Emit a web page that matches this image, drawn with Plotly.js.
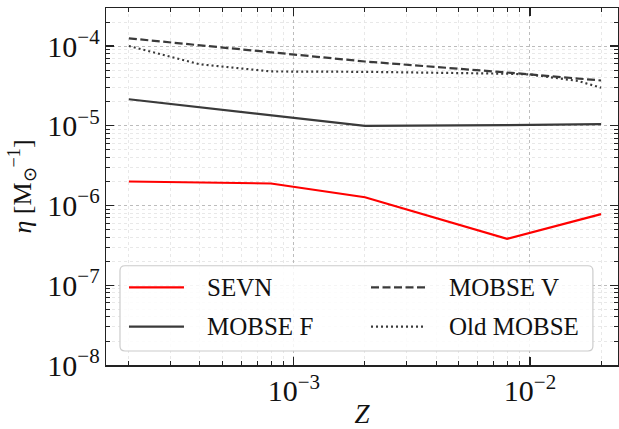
<!DOCTYPE html>
<html>
<head>
<meta charset="utf-8">
<script src="https://cdn.plot.ly/plotly-3.0.1.min.js"></script>
<style>
  html, body { margin: 0; padding: 0; background: #fff; }
  #chart { width: 619px; height: 429px; }
</style>
</head>
<body>
<div id="chart"></div>
<script>
// Metallicity grid and merger efficiency for each population-synthesis model
const sevnZ = [0.0002, 0.0008, 0.002, 0.008, 0.02];
const sevnEta = [2.0e-6, 1.89e-6, 1.27e-6, 3.83e-7, 7.8e-7];

const mobseFZ = [0.0002, 0.002, 0.008, 0.02];
const mobseFEta = [2.15e-5, 1.0e-5, 1.02e-5, 1.05e-5];

const mobseVZ = [0.0002, 0.001, 0.002, 0.008, 0.01, 0.02];
const mobseVEta = [1.25e-4, 7.8e-5, 6.4e-5, 4.66e-5, 4.4e-5, 3.7e-5];

const oldZ = [0.0002, 0.0004, 0.0008, 0.002, 0.008, 0.01, 0.016, 0.02];
const oldEta = [1.0e-4, 5.9e-5, 4.8e-5, 4.75e-5, 4.5e-5, 4.4e-5, 3.65e-5, 3.0e-5];

const names = ['SEVN', 'MOBSE F', 'MOBSE V', 'Old MOBSE'];
const colors = ['#ff0000', '#3a3a3a', '#3a3a3a', '#3a3a3a'];
const dashes = ['solid', 'solid', '8px,3.5px', '2px,3px'];
const xs = [sevnZ, mobseFZ, mobseVZ, oldZ];
const ys = [sevnEta, mobseFEta, mobseVEta, oldEta];

const FONT = '"Liberation Serif", "Times New Roman", serif';

const traces = names.map((n, i) => ({
  x: xs[i], y: ys[i], name: n, type: 'scatter', mode: 'lines',
  line: { color: colors[i], width: 2.2, dash: dashes[i] },
  showlegend: false
}));

// Hand-built two-column legend box
const legendBox = { x0: 0.0273, x1: 0.951, y0: 0.0392, y1: 0.278 };
const rx = 5 / 512, ry = 5 / 357;
const b = legendBox;
const boxPath = `M ${b.x0 + rx} ${b.y0} L ${b.x1 - rx} ${b.y0} Q ${b.x1} ${b.y0} ${b.x1} ${b.y0 + ry} ` +
  `L ${b.x1} ${b.y1 - ry} Q ${b.x1} ${b.y1} ${b.x1 - rx} ${b.y1} L ${b.x0 + rx} ${b.y1} ` +
  `Q ${b.x0} ${b.y1} ${b.x0} ${b.y1 - ry} L ${b.x0} ${b.y0 + ry} Q ${b.x0} ${b.y0} ${b.x0 + rx} ${b.y0} Z`;

// legend slot for each series: [column, row]
const slots = [[0, 0], [0, 1], [1, 0], [1, 1]];
const colLine = [[0.0449, 0.1523], [0.5176, 0.6244]];
const colText = [0.1934, 0.6654];
const rowY = [0.2176, 0.1073];

const shapes = [{
  type: 'path', path: boxPath, xref: 'paper', yref: 'paper',
  fillcolor: 'rgba(255,255,255,0.85)', line: { color: '#cccccc', width: 1.2 }
}];
const annotations = [];
names.forEach((n, i) => {
  const [c, r] = slots[i];
  shapes.push({
    type: 'line', xref: 'paper', yref: 'paper',
    x0: colLine[c][0], x1: colLine[c][1], y0: rowY[r], y1: rowY[r],
    line: { color: colors[i], width: 2.2, dash: dashes[i] }
  });
  annotations.push({
    xref: 'paper', yref: 'paper', x: colText[c], y: rowY[r],
    xanchor: 'left', yanchor: 'middle', showarrow: false, text: n,
    font: { family: FONT, size: 25, color: '#111' }
  });
});

const axisCommon = {
  type: 'log', showline: true, linecolor: '#222', linewidth: 1.5,
  mirror: 'allticks', ticks: 'inside', ticklen: 8, tickwidth: 1.2, tickcolor: '#222',
  showgrid: true, gridcolor: '#b5b5b5', griddash: 'dot', gridwidth: 0.9,
  zeroline: false, exponentformat: 'power', dtick: 1,
  tickfont: { family: FONT, size: 24, color: '#111' },
  minor: { ticks: 'inside', ticklen: 4, tickwidth: 1, tickcolor: '#222',
           showgrid: true, gridcolor: '#e2e2e2', griddash: 'dot', gridwidth: 0.8 }
};

const layout = {
  width: 619, height: 429,
  margin: { l: 106, r: 1, t: 8, b: 64 },
  paper_bgcolor: '#fff', plot_bgcolor: '#fff',
  xaxis: Object.assign({}, axisCommon, {
    range: [Math.log10(1.6e-4), Math.log10(0.0236)],
    title: { text: '<i>Z</i>', font: { family: FONT, size: 27, color: '#111' }, standoff: 8 }
  }),
  yaxis: Object.assign({}, axisCommon, {
    range: [-8, Math.log10(3.0e-4)],
    title: { text: '<i>η</i> [M<sub>⊙</sub><sup>−1</sup>]', font: { family: FONT, size: 26, color: '#111' }, standoff: 8 }
  }),
  shapes: shapes,
  annotations: annotations
};

Plotly.newPlot('chart', traces, layout, { staticPlot: true, displayModeBar: false });
</script>
</body>
</html>
